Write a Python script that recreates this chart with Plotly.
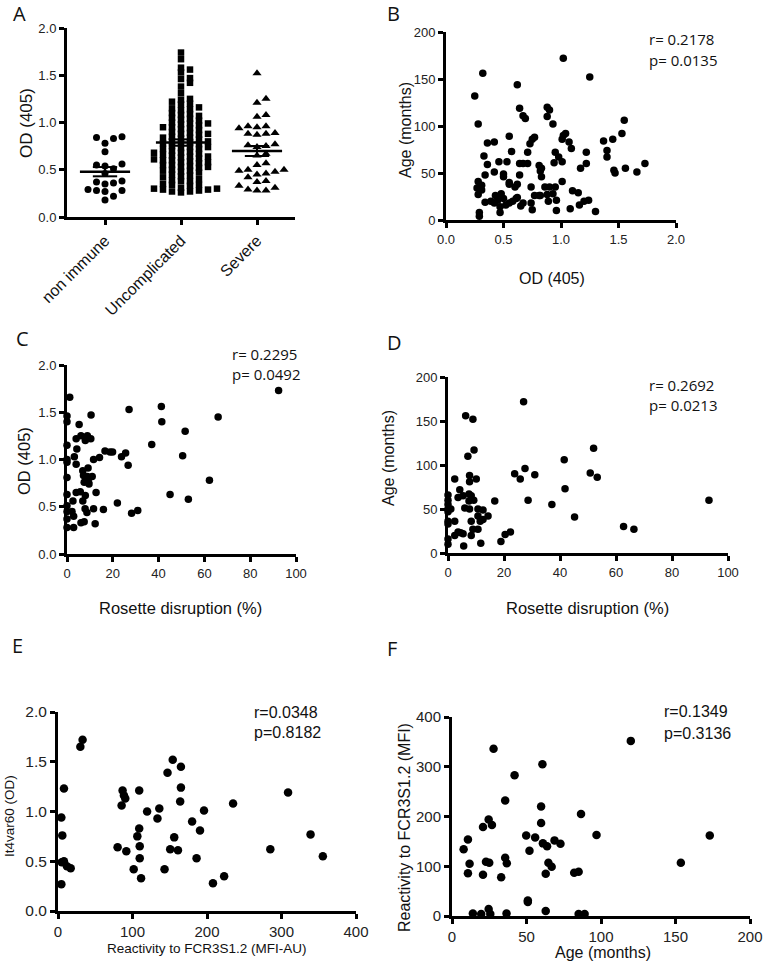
import numpy as np
import plotly.graph_objects as go

W, H = 769, 972

# ---------------- data ----------------
groups_a = ["non immune", "Uncomplicated", "Severe"]
od_non_immune = [0.85, 0.84, 0.83, 0.78, 0.69, 0.56, 0.55, 0.54, 0.51, 0.46,
                 0.38, 0.37, 0.36, 0.35, 0.29, 0.28, 0.28, 0.27, 0.22, 0.18]
od_uncomplicated = [1.74, 1.67, 1.58, 1.56, 1.53, 1.47, 1.46, 1.42, 1.38, 1.31,
                    1.25, 1.24, 1.22, 1.20, 1.19, 1.16, 1.15, 1.14, 1.13,
                    1.10, 1.09, 1.08, 1.07, 1.05, 1.04, 1.03, 1.02,
                    1.00, 0.99, 0.99, 0.98, 0.97, 0.95, 0.95, 0.94, 0.93, 0.92,
                    0.90, 0.89, 0.88, 0.88, 0.87, 0.85, 0.84, 0.84, 0.83, 0.82,
                    0.80, 0.80, 0.79, 0.78, 0.78, 0.77, 0.75, 0.74, 0.74, 0.73, 0.72, 0.72,
                    0.70, 0.69, 0.68, 0.68, 0.67, 0.66, 0.65, 0.64, 0.64, 0.63, 0.62, 0.61,
                    0.60, 0.60, 0.59, 0.58, 0.58, 0.57, 0.55, 0.55, 0.54, 0.53, 0.53, 0.52,
                    0.50, 0.49, 0.49, 0.48, 0.47, 0.45, 0.44, 0.43, 0.42,
                    0.40, 0.39, 0.38, 0.38, 0.35, 0.34, 0.34, 0.33,
                    0.31, 0.30, 0.30, 0.29, 0.29, 0.28, 0.27, 0.27, 0.26]
od_severe = [1.52, 1.25, 1.21, 1.08, 1.06, 0.96, 0.96, 0.95, 0.94, 0.89,
             0.88, 0.88, 0.87, 0.77, 0.76, 0.75, 0.74, 0.67, 0.65, 0.57,
             0.55, 0.50, 0.50, 0.49, 0.48, 0.46, 0.45, 0.42, 0.38, 0.37,
             0.33, 0.31, 0.29, 0.28, 0.28]

b_od = [1.02, 0.32, 1.25, 0.62, 0.25, 0.64, 0.67, 0.69, 0.88, 0.90,
        0.88, 0.93, 0.28, 1.55, 1.53, 1.45, 1.37, 1.40, 1.40, 1.46,
        1.47, 1.56, 1.66, 1.73, 0.36, 0.42, 0.55, 1.02, 1.04, 1.07,
        1.09, 1.22, 1.22, 1.17, 1.01, 0.73, 0.75, 0.77, 0.71, 0.57,
        0.33, 0.36, 0.46, 0.53, 0.64, 0.67, 0.71, 0.81, 0.83, 0.95,
        0.98, 1.01, 0.94, 0.42, 0.50, 0.50, 0.55, 0.55, 0.34, 0.64,
        0.62, 0.60, 0.82, 0.83, 0.28, 0.27, 0.28, 0.31, 0.31, 0.34,
        0.39, 0.42, 0.45, 0.48, 0.50, 0.52, 0.55, 0.58, 0.61, 0.67,
        0.74, 0.75, 0.77, 0.74, 0.81, 0.82, 0.86, 0.90, 0.95, 0.88,
        0.89, 0.93, 0.96, 0.96, 1.01, 1.10, 1.15, 1.08, 1.16, 1.20,
        1.24, 1.30, 0.29, 0.29, 0.47, 0.65, 0.62, 0.43, 0.47]
b_age = [172, 156, 152, 144, 132, 119, 111, 108, 120, 117,
         110, 102, 102, 106, 92, 86, 84, 74, 67, 53,
         50, 55, 51, 60, 82, 83, 89, 90, 92, 83,
         76, 72, 60, 55, 86, 81, 86, 88, 72, 73,
         68, 59, 62, 62, 60, 60, 60, 58, 55, 72,
         67, 62, 61, 51, 49, 46, 40, 38, 48, 48,
         38, 35, 52, 46, 41, 34, 27, 37, 32, 19,
         20, 18, 21, 28, 23, 16, 18, 20, 23, 18,
         18, 11, 26, 35, 26, 26, 35, 35, 35, 27,
         20, 28, 21, 10, 41, 31, 29, 12, 16, 20,
         21, 9, 8, 4, 8, 15, 24, 26, 14]

c_rosette = [92.4, 1.2, 27.1, 41.2, 41.4, 66.0, 51.6, 37.0, 50.5, 62.2,
             45.0, 53.0, 28.2, 30.9, 22.0, 15.9, 0.0, 0.0, 10.5, 5.3,
             4.0, 6.1, 8.0, 8.9, 10.4, 0.0, 4.3, 16.6, 18.8, 19.9,
             23.8, 25.6, 26.7, 14.2, 11.6, 3.2, 0.0, 4.0, 0.0, 6.9,
             9.2, 7.2, 8.9, 11.0, 7.5, 9.4, 12.7, 4.0, 5.8, 0.0,
             2.6, 6.9, 7.9, 8.7, 11.6, 0.0, 2.2, 2.9, 0.0, 0.0,
             2.9, 6.1, 7.5, 12.3, 0.0, 0.0, 8.0, 9.6]
c_od = [1.73, 1.66, 1.53, 1.56, 1.40, 1.45, 1.30, 1.16, 1.04, 0.78,
        0.63, 0.58, 0.43, 0.46, 0.54, 0.47, 1.46, 1.40, 1.47, 1.37,
        1.22, 1.25, 1.20, 1.25, 1.22, 1.15, 1.11, 1.09, 1.08, 1.08,
        1.03, 1.07, 0.94, 1.02, 1.00, 1.03, 0.97, 0.95, 0.81, 0.88,
        0.91, 0.83, 0.82, 0.82, 0.76, 0.76, 0.65, 0.65, 0.66, 0.63,
        0.56, 0.56, 0.48, 0.44, 0.48, 0.51, 0.45, 0.40, 0.37, 0.28,
        0.28, 0.33, 0.34, 0.32, 1.00, 0.45, 0.62, 0.74]

d_rosette = [27.0, 6.3, 8.9, 9.3, 7.1, 52.0, 41.5, 2.4, 7.7, 7.7,
             10.1, 23.8, 27.5, 25.8, 31.0, 50.8, 53.3, 41.8, 4.2, 0.0,
             0.0, 0.0, 0.0, 0.0, 0.0, 0.0, 0.0, 0.0, 3.6, 5.4,
             7.5, 8.3, 9.2, 7.5, 16.7, 28.6, 93.2, 6.0, 7.7, 10.7,
             12.5, 37.1, 2.4, 8.3, 10.7, 11.5, 12.5, 14.3, 45.2, 3.6,
             5.4, 2.4, 8.9, 8.3, 10.7, 5.6, 11.7, 18.9, 20.4, 22.3,
             62.7, 66.4, 1.0, 4.5]
d_age = [172, 156, 152, 117, 110, 119, 106, 84, 88, 81,
         84, 90, 96, 84, 89, 91, 86, 73, 72, 66,
         60, 55, 50, 47, 36, 33, 16, 10, 63, 65,
         67, 65, 60, 59, 59, 60, 60, 51, 50, 50,
         49, 55, 36, 36, 42, 36, 38, 42, 41, 24,
         22, 20, 27, 20, 27, 8, 11, 13, 21, 24,
         30, 27, 50, 23]

e_reactivity = [30.0, 33.0, 8.0, 4.5, 5.8, 5.0, 8.0, 12.0, 17.0, 4.5,
                86.7, 88.5, 90.3, 85.4, 109.0, 80.0, 91.7, 119.6, 136.0, 133.5,
                109.0, 106.5, 109.7, 109.7, 101.6, 111.5, 154.0, 147.0, 165.0, 165.0,
                164.0, 156.0, 150.6, 161.0, 143.0, 180.0, 190.6, 196.0, 186.0, 208.0,
                223.0, 235.0, 285.0, 308.8, 339.0, 355.5]
e_od = [1.65, 1.72, 1.23, 0.94, 0.76, 0.49, 0.50, 0.45, 0.43, 0.27,
        1.21, 1.16, 1.13, 1.06, 1.21, 0.64, 0.60, 1.00, 1.03, 0.93,
        0.83, 0.75, 0.65, 0.53, 0.42, 0.33, 1.52, 1.39, 1.45, 1.24,
        1.10, 0.74, 0.62, 0.61, 0.42, 0.90, 0.81, 1.01, 0.53, 0.28,
        0.35, 1.08, 0.62, 1.19, 0.77, 0.55]

f_age = [7.8, 10.7, 11.8, 10.7, 20.8, 24.6, 26.8, 27.9, 22.8, 25.0,
         20.8, 33.0, 35.7, 36.8, 35.7, 42.0, 49.8, 52.0, 50.9, 50.9,
         55.8, 60.7, 59.8, 59.8, 61.0, 63.8, 68.8, 72.8, 64.7, 66.9,
         62.9, 62.9, 86.6, 97.0, 82.0, 85.0, 85.0, 89.0, 120.0, 153.6,
         173.0, 14.0, 19.6, 25.7, 36.6, 24.6]
f_reactivity = [134, 154, 105, 86, 179, 194, 183, 336, 109, 107,
                83, 78, 117, 106, 232, 283, 162, 131, 31, 28,
                158, 305, 220, 187, 146, 140, 152, 145, 107, 99,
                85, 10, 205, 163, 87, 89, 4, 4, 352, 107,
                162, 5, 4, 4, 5, 14]

stats = {"B": ("r= 0.2178", "p= 0.0135"), "C": ("r= 0.2295", "p= 0.0492"),
         "D": ("r= 0.2692", "p= 0.0213"), "E": ("r=0.0348", "p=0.8182"),
         "F": ("r=0.1349", "p=0.3136")}

# ---------------- layout helpers ----------------
TICKFONT = "Liberation Sans, Arial, sans-serif"
LETTERFONT = "Open Sans, Noto Sans, sans-serif"

# pixel boxes (left, right, top, bottom) of each plotting area
boxes = {"A": (67, 295, 28, 217), "B": (446, 676, 32, 220),
         "C": (67, 296, 365, 554), "D": (448, 728, 377, 553),
         "E": (58, 356, 712, 911), "F": (452, 750, 717, 916)}


def xdom(b):
    return [b[0] / W, b[1] / W]


def ydom(b):
    return [1 - b[3] / H, 1 - b[2] / H]


def axis(size, **kw):
    d = dict(showline=True, linecolor="black", linewidth=3, ticks="outside",
             ticklen=5, tickwidth=2.5, tickcolor="black", showgrid=False,
             zeroline=False, fixedrange=True, automargin=False,
             tickfont=dict(family=TICKFONT, size=size, color="#222"))
    d.update(kw)
    return d


def swarm(vals, px_per_val, px_per_cat, step, min_dy):
    vals = np.asarray(vals, dtype=float)
    order = np.argsort(vals)
    placed = []
    offs = np.zeros(len(vals))
    cands = [0.0]
    for j in range(1, 30):
        cands += [j * step, -j * step]
    for i in order:
        y = vals[i] * px_per_val
        for c in cands:
            ok = True
            for py, px in placed:
                if abs(y - py) < min_dy and abs(c - px) < step * 0.99:
                    ok = False
                    break
            if ok:
                break
        placed.append((y, c))
        offs[i] = c / px_per_cat
    return offs


fig = go.Figure()

# ---------------- panel A ----------------
bA = boxes["A"]
px_val_A = (bA[3] - bA[2]) / 2.0
px_cat_A = (bA[1] - bA[0]) / 3.0
symbols = ["circle", "square", "triangle-up"]
sizes = [7, 6.5, 8]
steps = [8.5, 9.0, 9.0]
min_dys = [7.0, 4.2, 7.0]
for gi, (vals, sym, sz, st, md) in enumerate(zip([od_non_immune, od_uncomplicated, od_severe],
                                                 symbols, sizes, steps, min_dys)):
    offs = swarm(vals, px_val_A, px_cat_A, st, md)
    fig.add_trace(go.Scatter(x=gi + offs, y=vals, mode="markers",
                             marker=dict(symbol=sym, size=sz, color="black",
                                         line=dict(width=0)),
                             xaxis="x", yaxis="y", cliponaxis=False, showlegend=False))
    arr = np.asarray(vals)
    m = arr.mean()
    sem = arr.std(ddof=1) / np.sqrt(len(arr))
    hw, cw = 0.33, 0.16
    fig.add_trace(go.Scatter(x=[gi - hw, gi + hw], y=[m, m], mode="lines",
                             line=dict(color="black", width=2.5),
                             xaxis="x", yaxis="y", showlegend=False))
    fig.add_trace(go.Scatter(x=[gi - cw, gi + cw, None, gi, gi, None, gi - cw, gi + cw],
                             y=[m + sem, m + sem, None, m - sem, m + sem, None, m - sem, m - sem],
                             mode="lines", line=dict(color="black", width=2),
                             xaxis="x", yaxis="y", showlegend=False))

# ---------------- scatter panels ----------------
scatter_sets = [("B", "x2", "y2", b_od, b_age, 7.5),
                ("C", "x3", "y3", c_rosette, c_od, 7.5),
                ("D", "x4", "y4", d_rosette, d_age, 7.5),
                ("E", "x5", "y5", e_reactivity, e_od, 8.5),
                ("F", "x6", "y6", f_age, f_reactivity, 8.5)]
for key, xa, ya, xs, ys, ms in scatter_sets:
    assert len(xs) == len(ys)
    fig.add_trace(go.Scatter(x=xs, y=ys, mode="markers",
                             marker=dict(symbol="circle", size=ms, color="black",
                                         line=dict(width=0)),
                             xaxis=xa, yaxis=ya, cliponaxis=False, showlegend=False))

layout = dict(
    width=W, height=H, margin=dict(l=0, r=0, t=0, b=0, pad=0, autoexpand=False),
    paper_bgcolor="white", plot_bgcolor="white", showlegend=False,
    xaxis=axis(16, domain=xdom(boxes["A"]), anchor="y", range=[-0.5, 2.5],
               tickvals=[0, 1, 2], ticktext=groups_a, tickangle=-45,
               tickfont=dict(family=TICKFONT, size=16, color="#111")),
    yaxis=axis(13, domain=ydom(boxes["A"]), anchor="x", range=[0, 2], dtick=0.5,
               tickformat=".1f"),
    xaxis2=axis(13, domain=xdom(boxes["B"]), anchor="y2", range=[0, 2], dtick=0.5,
                tickformat=".1f"),
    yaxis2=axis(13, domain=ydom(boxes["B"]), anchor="x2", range=[0, 200], dtick=50),
    xaxis3=axis(13, domain=xdom(boxes["C"]), anchor="y3", range=[0, 100], dtick=20),
    yaxis3=axis(13, domain=ydom(boxes["C"]), anchor="x3", range=[0, 2], dtick=0.5,
                tickformat=".1f"),
    xaxis4=axis(13, domain=xdom(boxes["D"]), anchor="y4", range=[0, 100], dtick=20),
    yaxis4=axis(13, domain=ydom(boxes["D"]), anchor="x4", range=[0, 200], dtick=50),
    xaxis5=axis(15, domain=xdom(boxes["E"]), anchor="y5", range=[0, 400], dtick=100),
    yaxis5=axis(15.5, domain=ydom(boxes["E"]), anchor="x5", range=[0, 2], dtick=0.5,
                tickformat=".1f"),
    xaxis6=axis(15, domain=xdom(boxes["F"]), anchor="y6", range=[0, 200], dtick=50),
    yaxis6=axis(15, domain=ydom(boxes["F"]), anchor="x6", range=[0, 400], dtick=100),
)
fig.update_layout(**layout)


def ann(px, py, text, size, family=TICKFONT, xanchor="center", angle=0, color="#111"):
    fig.add_annotation(x=px / W, y=1 - py / H, xref="paper", yref="paper", text=text,
                       showarrow=False, xanchor=xanchor, yanchor="middle",
                       textangle=angle, font=dict(family=family, size=size, color=color))


# panel letters
for letter, (lx, ly) in {"A": (11, 14), "B": (385, 14), "C": (14, 338), "D": (385, 342),
                         "E": (10, 645), "F": (385, 648)}.items():
    ann(lx, ly, letter, 20, family=LETTERFONT, xanchor="left")

# r / p statistics
for key, (lx, ry, py, size, fam) in {"B": (647, 39, 60, 15, LETTERFONT),
                                     "C": (230, 354, 374, 15, LETTERFONT),
                                     "D": (647, 385, 405, 15, LETTERFONT),
                                     "E": (252, 712, 732, 16, TICKFONT),
                                     "F": (662, 711, 733, 16, TICKFONT)}.items():
    ann(lx, ry, stats[key][0], size, family=fam, xanchor="left")
    ann(lx, py, stats[key][1], size, family=fam, xanchor="left")

# axis titles
ann(26, 123, "OD (405)", 17, angle=-90)
ann(405, 130, "Age (months)", 16, angle=-90)
ann(552, 278, "OD (405)", 16)
ann(24, 461, "OD (405)", 16.5, angle=-90)
ann(180, 608, "Rosette disruption (%)", 16.5)
ann(388, 458, "Age (months)", 16, angle=-90)
ann(587, 608, "Rosette disruption (%)", 16.5)
ann(9, 816, "It4var60 (OD)", 13.5, angle=-90)
ann(207, 948, "Reactivity to FCR3S1.2 (MFI-AU)", 13.5)
ann(404, 827, "Reactivity to FCR3S1.2 (MFI)", 16, angle=-90)
ann(603, 952, "Age (months)", 16)

fig.write_html("out.html", config={"displayModeBar": False},
               post_script="document.body.style.margin='0';")
